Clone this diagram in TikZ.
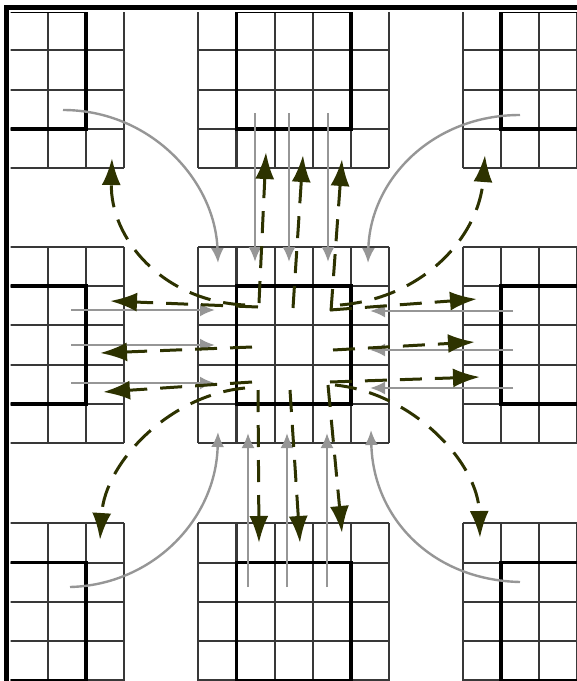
\documentclass[tikz,border=0pt]{standalone}
\usetikzlibrary{arrows.meta}
\definecolor{olivedark}{RGB}{45,50,0}
\definecolor{recvgray}{RGB}{150,150,150}
\newcommand{\gblock}[2]{%
  \foreach \k in {0,...,5}{%
    \draw[gridline] ({#1+\k*38.2},{#2}) -- ({#1+\k*38.2},{#2+196.5});
    \draw[gridline] ({#1},{#2+\k*39.3}) -- ({#1+191},{#2+\k*39.3});
  }
  \draw[boxline] ({#1+38.2},{#2+39.3}) rectangle ({#1+152.8},{#2+157.2});
}
\begin{document}
\begin{tikzpicture}[x=0.5pt,y=-0.5pt,
  gridline/.style={draw=black!78, line width=1.05pt},
  boxline/.style={draw=black, line width=1.8pt},
  recv/.style={draw=recvgray, line width=1.2pt, -{Latex[length=7.5pt,width=6.5pt]}},
  send/.style={draw=olivedark, line width=1.5pt, dash pattern=on 11pt off 6.5pt,
     -{Latex[length=13.5pt,width=9.5pt]}}]
\useasboundingbox (0,0) rectangle (577,681);
% grids
\begin{scope}
\clip (10.5,12.6) rectangle (577,681);
\foreach \bx in {-67,198.3,462.7}{
  \foreach \by in {-28.2,246.7,523.3}{
    \gblock{\bx}{\by}
  }
}
\end{scope}
% frame
\fill[black] (3.5,5) rectangle (577,10);
\fill[black] (3.5,5) rectangle (8.5,681);
% ---------- received (gray) ----------
\coordinate (gTLs) at (63,110);   \coordinate (gTLe) at (218,263);
\coordinate (gTRs) at (520,115);  \coordinate (gTRe) at (368,263);
\coordinate (gBLs) at (70,587);   \coordinate (gBLe) at (218,432);
\coordinate (gBRs) at (520,582);  \coordinate (gBRe) at (371,430);
\draw[recv] (gTLs) .. controls (150,110) and (215,180) .. (gTLe);
\draw[recv] (gTRs) .. controls (432,115) and (370,180) .. (gTRe);
\draw[recv] (gBLs) .. controls (152,585) and (216,520) .. (gBLe);
\draw[recv] (gBRs) .. controls (432,580) and (373,518) .. (gBRe);
\foreach \n/\x in {1/255,2/289,3/328}{
  \coordinate (gT\n s) at (\x,113); \coordinate (gT\n e) at (\x,262);
  \draw[recv] (gT\n s) -- (gT\n e);
}
\foreach \n/\x in {1/248,2/287,3/327}{
  \coordinate (gB\n s) at (\x,587); \coordinate (gB\n e) at (\x,433);
  \draw[recv] (gB\n s) -- (gB\n e);
}
\foreach \n/\y in {1/310,2/345,3/383}{
  \coordinate (gL\n s) at (71,\y); \coordinate (gL\n e) at (215,\y);
  \draw[recv] (gL\n s) -- (gL\n e);
}
\foreach \n/\y in {1/311,2/350,3/388}{
  \coordinate (gR\n s) at (513,\y); \coordinate (gR\n e) at (370,\y);
  \draw[recv] (gR\n s) -- (gR\n e);
}
% ---------- sent (dashed olive) ----------
\coordinate (sU1s) at (259,303); \coordinate (sU1e) at (266,152);
\coordinate (sU2s) at (293,308); \coordinate (sU2e) at (303,155);
\coordinate (sU3s) at (331,311); \coordinate (sU3e) at (342,159);
\coordinate (sD1s) at (258,390); \coordinate (sD1e) at (259,543);
\coordinate (sD2s) at (290,390); \coordinate (sD2e) at (300,543);
\coordinate (sD3s) at (328,385); \coordinate (sD3e) at (342,533);
\coordinate (sL1s) at (258,307); \coordinate (sL1e) at (110,301);
\coordinate (sL2s) at (252,347); \coordinate (sL2e) at (100,353);
\coordinate (sL3s) at (252,382); \coordinate (sL3e) at (103,392);
\coordinate (sR1s) at (330,310); \coordinate (sR1e) at (477,299);
\coordinate (sR2s) at (333,350); \coordinate (sR2e) at (475,342);
\coordinate (sR3s) at (330,382); \coordinate (sR3e) at (480,377);
\foreach \d in {U1,U2,U3,D1,D2,D3,L1,L2,L3,R1,R2,R3}{
  \draw[send] (s\d s) -- (s\d e);
}
\coordinate (sTLs) at (245,305); \coordinate (sTLe) at (112,158);
\coordinate (sTRs) at (340,305); \coordinate (sTRe) at (485,155);
\coordinate (sBLs) at (245,388); \coordinate (sBLe) at (100,540);
\coordinate (sBRs) at (335,385); \coordinate (sBRe) at (480,538);
\draw[send] (sTLs) .. controls (162,301) and (110,238) .. (sTLe);
\draw[send] (sTRs) .. controls (425,298) and (479,235) .. (sTRe);
\draw[send] (sBLs) .. controls (170,395) and (105,462) .. (sBLe);
\draw[send] (sBRs) .. controls (412,393) and (478,462) .. (sBRe);
\end{tikzpicture}
\end{document}
